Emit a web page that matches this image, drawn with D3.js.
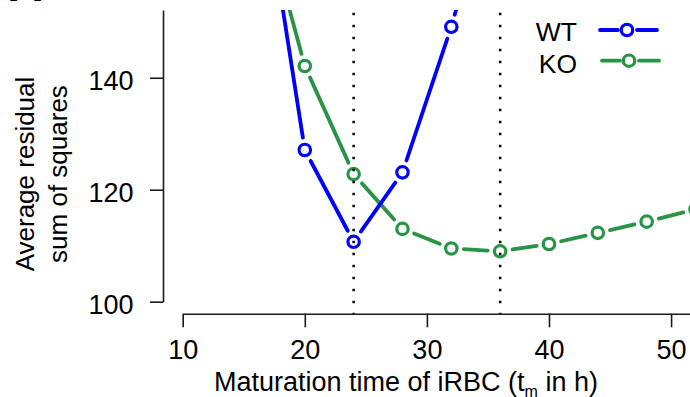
<!DOCTYPE html>
<html>
<head>
<meta charset="utf-8">
<script src="https://cdn.jsdelivr.net/npm/d3@7"></script>
<style>
body{margin:0;background:#fff;}
svg{display:block;font-family:"Liberation Sans", Arial, sans-serif;}
</style>
</head>
<body>
<div id="grafico"></div>
<script>
// dati (tempo di maturazione in h -> RSS medio)
var tempi_wt = [16, 20, 24, 28, 32, 36];
var valori_wt = [183, 127.1, 110.7, 123.1, 149.1, 180];
var tempi_ko = [16, 20, 24, 28, 32, 36, 40, 44, 48, 52];
var valori_ko = [174.3, 142.1, 122.8, 113.0, 109.5, 109.0, 110.3, 112.3, 114.3, 116.5];
var tick_x = [10, 20, 30, 40, 50];
var tick_y = [100, 120, 140];
var linee_verticali = [24, 36];
var nomi_serie = ["WT", "KO"];

var colori = ["#0000ff", "#2a9446"];
var larghezza = 690, altezza = 397;
var sinistra = 163, destra = 703, alto = 10, basso = 313.7;

var scalaX = d3.scaleLinear().domain([10, 52]).range([182.7, 695.5]);
var scalaY = d3.scaleLinear().domain([100, 152.1]).range([301.7, 10]);

var svg = d3.select("#grafico")
	.append("svg")
	.attr("width", larghezza)
	.attr("height", altezza);

svg.append("clipPath").attr("id", "area")
	.append("rect")
	.attr("x", sinistra).attr("y", alto)
	.attr("width", destra - sinistra).attr("height", basso - alto);

// assi
var asseX = d3.axisBottom(scalaX).tickValues(tick_x).tickSize(13.6).tickSizeOuter(0).tickPadding(12.8);
var gx = svg.append("g").attr("transform", "translate(0," + basso + ")").call(asseX);
var asseY = d3.axisLeft(scalaY).tickValues(tick_y).tickSize(13).tickSizeOuter(0).tickPadding(16.5);
var gy = svg.append("g").attr("transform", "translate(" + sinistra + ",0)").call(asseY);

[gx, gy].forEach(function(g){
	g.attr("font-size", 27).attr("font-family", "Liberation Sans, Arial, sans-serif");
	g.selectAll("path, line").attr("stroke", "#1a1a1a").attr("stroke-width", 1.6);
	g.selectAll("text").attr("fill", "#000");
});
gy.selectAll("text").attr("dy", "0.45em");

// segmenti con spazio intorno ai punti (come type="b")
function segmenti(tempi, valori, gap){
	var pts = tempi.map(function(t, i){ return [scalaX(t), scalaY(valori[i])]; });
	var out = [];
	for (var i = 0; i < pts.length - 1; i++){
		var dx = pts[i+1][0] - pts[i][0], dy = pts[i+1][1] - pts[i][1];
		var l = Math.sqrt(dx*dx + dy*dy);
		if (l <= 2*gap) continue;
		var ux = dx / l, uy = dy / l;
		out.push([pts[i][0] + ux*gap, pts[i][1] + uy*gap, pts[i+1][0] - ux*gap, pts[i+1][1] - uy*gap]);
	}
	return out;
}

var serie = [
	{tempi: tempi_wt, valori: valori_wt, colore: colori[0]},
	{tempi: tempi_ko, valori: valori_ko, colore: colori[1]}
];

var dati = svg.append("g").attr("clip-path", "url(#area)");

// prima KO poi WT (WT sopra)
[serie[1], serie[0]].forEach(function(s){
	dati.append("g").selectAll("line")
		.data(segmenti(s.tempi, s.valori, 12.5))
		.enter().append("line")
		.attr("x1", function(d){ return d[0]; })
		.attr("y1", function(d){ return d[1]; })
		.attr("x2", function(d){ return d[2]; })
		.attr("y2", function(d){ return d[3]; })
		.attr("stroke", s.colore)
		.attr("stroke-width", 3.8)
		.attr("stroke-linecap", "round");
	dati.append("g").selectAll("circle")
		.data(s.tempi)
		.enter().append("circle")
		.attr("cx", function(d){ return scalaX(d); })
		.attr("cy", function(d, i){ return scalaY(s.valori[i]); })
		.attr("r", 5.7)
		.attr("fill", "none")
		.attr("stroke", s.colore)
		.attr("stroke-width", 3.2);
});

// linee tratteggiate verticali
svg.append("g").selectAll("line")
	.data(linee_verticali)
	.enter().append("line")
	.attr("x1", function(d){ return scalaX(d); })
	.attr("x2", function(d){ return scalaX(d); })
	.attr("y1", 12.75)
	.attr("y2", basso)
	.attr("stroke", "#000")
	.attr("stroke-width", 2.5)
	.attr("stroke-dasharray", "2.5,9.5");

// legenda
var legenda = svg.append("g");
nomi_serie.forEach(function(nome, i){
	var y = 30 + i*30.7;
	var dx = i*2;
	legenda.append("text")
		.attr("x", 577).attr("y", y + 10.5 + i*1.5)
		.attr("text-anchor", "end")
		.attr("font-size", 26.5)
		.text(nome);
	[[600, 618], [637, 657]].forEach(function(p){
		legenda.append("line")
			.attr("x1", p[0] + dx).attr("x2", p[1] + dx)
			.attr("y1", y).attr("y2", y)
			.attr("stroke", colori[i])
			.attr("stroke-width", 3.8)
			.attr("stroke-linecap", "round");
	});
	legenda.append("circle")
		.attr("cx", 627 + dx).attr("cy", y)
		.attr("r", 5.7)
		.attr("fill", "none")
		.attr("stroke", colori[i])
		.attr("stroke-width", 3.2);
});

// titoli assi
var titoloX = svg.append("text")
	.attr("x", 214).attr("y", 390.5)
	.attr("font-size", 27);
titoloX.append("tspan").text("Maturation time of iRBC (t");
titoloX.append("tspan").attr("font-size", 16).attr("dy", 6).text("m");
titoloX.append("tspan").attr("dy", -6).text(" in h)");

var titoloY = svg.append("text")
	.attr("transform", "translate(33.5,174) rotate(-90)")
	.attr("text-anchor", "middle")
	.attr("font-size", 26);
titoloY.append("tspan").attr("x", 0).attr("y", 0).text("Average residual");
titoloY.append("tspan").attr("x", 0).attr("y", 33.5).text("sum of squares");

// lettera del pannello, quasi tutta fuori dall'immagine
svg.append("text")
	.attr("x", 9).attr("y", 1.4)
	.attr("font-size", 46)
	.attr("font-weight", "bold")
	.text("A");
</script>
</body>
</html>
